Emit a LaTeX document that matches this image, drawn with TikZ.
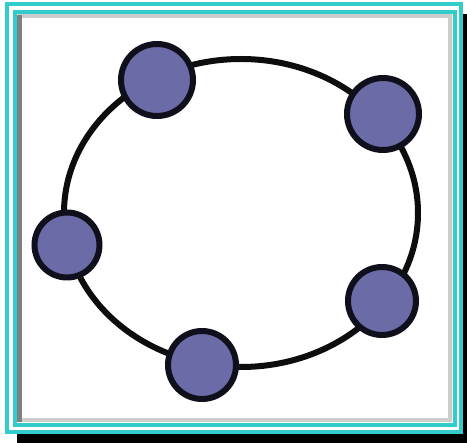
\documentclass[tikz,border=0pt]{standalone}
\usepackage{tikz}
\usetikzlibrary{positioning}
\definecolor{frame}{HTML}{33CCCC}
\definecolor{dotfill}{HTML}{6B6BA8}
\definecolor{dotline}{HTML}{10101C}
\begin{document}
\begin{tikzpicture}[x=1pt,y=-1pt,
  vertex/.style={circle,draw=dotline,fill=dotfill,line width=6pt,minimum size=68pt,inner sep=0pt},
  ring/.style={draw=black!95,line width=6pt}]
  \useasboundingbox (0,0) rectangle (467,443);
  % shadow and double frame
  \fill[white] (0,0) rectangle (467,443);
  \fill[black] (17,14) rectangle (467,443);
  \draw[frame,line width=4pt,fill=white] (6.5,4.5) rectangle (461,432);
  \draw[frame,line width=4pt] (14.5,12) rectangle (455,425);
  \draw[black!20,line width=4pt] (19.5,16.5) rectangle (450,420.5);
  \draw[black!50,line width=5pt] (19.5,15) -- (19.5,422);

  % ring
  \draw[ring] (241,213) ellipse [x radius=177pt, y radius=154pt];

  % vertices on the ring
  \foreach \n/\x/\y/\s in {1/157/80/72pt, 2/383/114/72pt, 3/67/245/65pt, 4/382/301/68pt, 5/202/365/68pt} {
    \node[vertex,minimum size=\s] (v\n) at (\x,\y) {};
  }
\end{tikzpicture}
\end{document}
